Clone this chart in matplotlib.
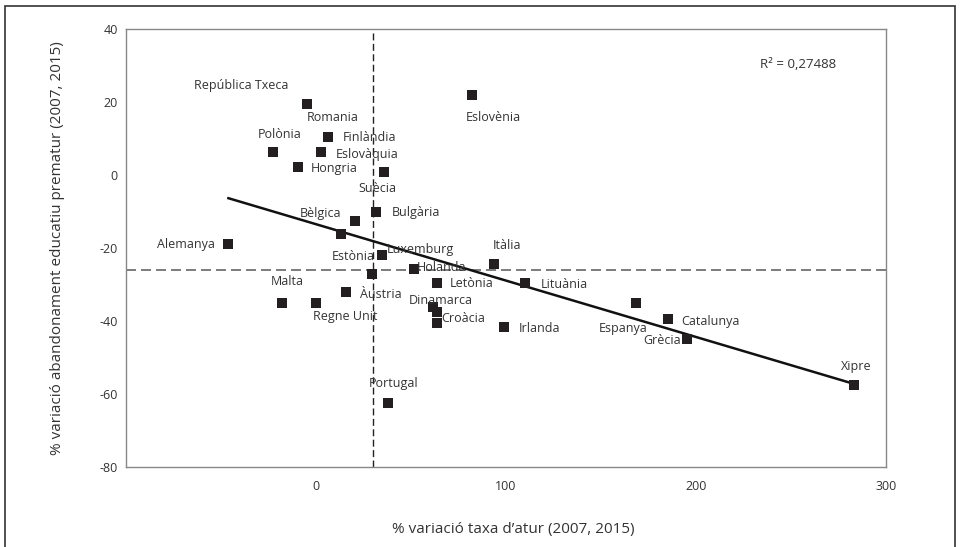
import numpy as np
import matplotlib
matplotlib.use("Agg")
import matplotlib.pyplot as plt
from matplotlib.patches import Rectangle

plt.rcParams['font.family'] = ['Open Sans', 'DejaVu Sans']
plt.rcParams['axes.unicode_minus'] = False

# dades: % variacio taxa d'atur (x) i % variacio abandonament prematur (y), 2007-2015
paisos = ['República Txeca', 'Romania', 'Polònia', 'Eslovàquia', 'Hongria',
          'Finlàndia', 'Eslovènia', 'Bulgària', 'Suècia', 'Bèlgica',
          'Alemanya', 'Estònia', 'Luxemburg', 'França', 'Itàlia',
          'Holanda', 'Lituània', 'Àustria', 'Malta', 'Regne Unit',
          'Dinamarca', 'Letònia', 'Croàcia', 'Irlanda', 'Espanya',
          'Catalunya', 'Grècia', 'Xipre', 'Portugal']
var_atur = [-4.7, 6.3, -22.5, 2.6, -9.4,
            35.7, 82.3, 31.8, 20.5, 13.1,
            -46.1, 34.6, 51.4, 29.4, 93.9,
            63.5, 110.1, 15.7, -17.8, 0.0,
            61.4, 63.6, 63.5, 99.1, 168.2,
            185.1, 195.1, 283.2, 37.8]
var_abandonament = [19.5, 10.4, 6.3, 6.3, 2.2,
                    0.8, 21.9, -10.1, -12.5, -16.2,
                    -18.9, -21.8, -25.7, -27.1, -24.3,
                    -29.7, -29.5, -32.1, -35.0, -35.0,
                    -36.1, -37.5, -40.5, -41.6, -35.0,
                    -39.5, -44.8, -57.5, -62.4]
mitjana_ue = (30.0, -26.0)
r2_text = 'R² = 0,27488'

# posicio de cada etiqueta respecte del seu punt (pixels)
offsets = {
    'República Txeca': (-66, 18), 'Romania': (5, 20), 'Polònia': (6, 18),
    'Eslovàquia': (46, -2), 'Hongria': (36, -2), 'Finlàndia': (-14, 35),
    'Eslovènia': (21, -22), 'Bulgària': (40, -1), 'Suècia': (22, 32),
    'Bèlgica': (-20, 21), 'Alemanya': (-42, -1), 'Estònia': (-28, -2),
    'Luxemburg': (7, 19), 'Itàlia': (13, 18), 'Holanda': (5, 16),
    'Lituània': (39, -2), 'Àustria': (35, -2), 'Malta': (5, 21),
    'Regne Unit': (29, -14), 'Dinamarca': (8, 6), 'Letònia': (35, 28),
    'Croàcia': (27, 4), 'Irlanda': (35, -2), 'Espanya': (-12, -26),
    'Catalunya': (43, -2), 'Grècia': (-25, -2), 'Xipre': (2, 18),
    'Portugal': (6, 19),
}

x = np.array(var_atur)
y = np.array(var_abandonament)

fig = plt.figure(figsize=(9.6, 5.47), dpi=100)
ax = fig.add_axes([126 / 960, 1 - 467 / 547, 760 / 960, 438 / 547])

ax.axvline(mitjana_ue[0], color='#222222', lw=1.0, ls=(0, (5, 2.5)), zorder=1)
ax.axhline(mitjana_ue[1], color='#666666', lw=1.2, ls=(0, (6, 3)), zorder=1)

# recta de regressio
a, b = np.polyfit(x, y, 1)
xs = np.array([x.min(), x.max()])
ax.plot(xs, a * xs + b, color='#111111', lw=1.8, zorder=2)

ax.scatter(x, y, marker='s', s=52, color='#231f20', zorder=3, linewidths=0)

for nom, xi, yi in zip(paisos, x, y):
    if nom not in offsets:
        continue
    ax.annotate(nom, (xi, yi), xytext=offsets[nom], textcoords='offset pixels',
                ha='center', va='center', fontsize=9, color='#333333', zorder=4)

ax.text(0.834, 0.92, r2_text, transform=ax.transAxes, fontsize=9.5,
        color='#333333', ha='left', va='center')

ax.set_xlim(-100, 300)
ax.set_ylim(-80, 40)
ax.set_xticks([0, 100, 200, 300])
ax.set_yticks([-80, -60, -40, -20, 0, 20, 40])
ax.tick_params(length=0, labelsize=9, labelcolor='#333333')
ax.tick_params(axis='x', pad=9)
ax.tick_params(axis='y', pad=6)
for s in ax.spines.values():
    s.set_color('#888888')
    s.set_linewidth(1.0)

ax.set_xlabel("% variació taxa d\u2019atur (2007, 2015)", fontsize=11, color='#333333')
ax.set_ylabel('% variació abandonament educatiu prematur (2007, 2015)', fontsize=11,
              color='#333333')
ax.xaxis.set_label_coords(0.51, -0.126)
ax.yaxis.set_label_coords(-0.080, 0.5)

# marc exterior
fig.patches.append(Rectangle((5 / 960, -0.05), 950 / 960, 1.05 - 6 / 547,
                             transform=fig.transFigure, fill=False,
                             edgecolor='#333333', lw=1.2))

fig.savefig('out.png', dpi=100)
